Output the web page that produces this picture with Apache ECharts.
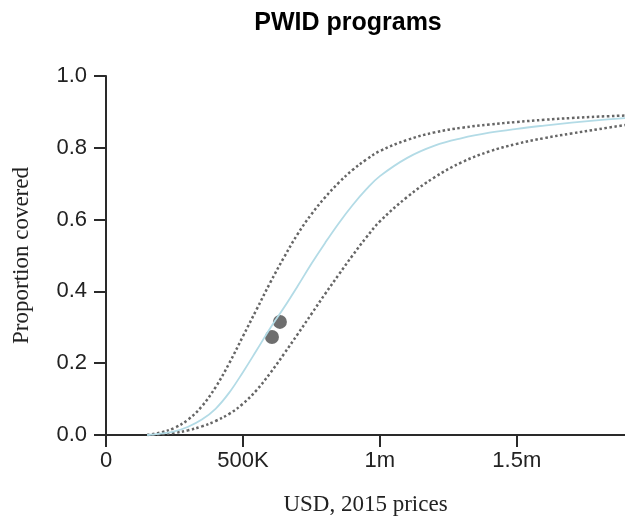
<!DOCTYPE html>
<html>
<head>
<meta charset="utf-8">
<script src="https://cdn.jsdelivr.net/npm/echarts@6/dist/echarts.min.js"></script>
<style>
html,body{margin:0;padding:0;background:#fff;}
#main{width:625px;height:522px;}
</style>
</head>
<body>
<div id="main"></div>
<script>
var chartTitle = 'PWID programs';
var xAxisName = 'USD, 2015 prices';
var yAxisName = 'Proportion covered';
var xTickValues = [0, 500000, 1000000, 1500000];
var xTickLabels = ['0', '500K', '1m', '1.5m'];

var spend = [150000,200000,250000,300000,350000,400000,450000,500000,550000,600000,650000,700000,750000,800000,850000,900000,950000,1000000,1100000,1200000,1300000,1400000,1500000,1600000,1700000,1800000,1900000];
var upperBound = [0,0.007,0.02,0.043,0.08,0.133,0.2,0.275,0.35,0.425,0.495,0.56,0.615,0.662,0.703,0.738,0.767,0.791,0.822,0.843,0.856,0.865,0.872,0.878,0.883,0.887,0.89];
var bestEstimate = [0,0.004,0.01,0.023,0.043,0.073,0.118,0.175,0.236,0.298,0.355,0.415,0.477,0.535,0.59,0.64,0.684,0.721,0.772,0.806,0.827,0.842,0.853,0.862,0.87,0.877,0.883];
var lowerBound = [0,0.002,0.006,0.013,0.024,0.039,0.059,0.087,0.125,0.173,0.226,0.281,0.337,0.393,0.447,0.5,0.55,0.595,0.663,0.718,0.76,0.79,0.811,0.827,0.84,0.852,0.864];

var observedSpend = [606000, 635000];
var observedCoverage = [0.273, 0.315];

function pairs(xs, ys){ return xs.map(function(x,i){ return [x, ys[i]]; }); }

var chart = echarts.init(document.getElementById('main'), null, {renderer:'canvas'});
var axisCol = '#2a2a2a';
chart.setOption({
  animation: false,
  backgroundColor: '#fff',
  title: {
    text: chartTitle,
    left: 343, top: 6, textAlign: 'center',
    textStyle: {fontFamily: 'Liberation Sans', fontWeight: 'bold', fontSize: 25, color: '#000'}
  },
  grid: {left: 106, right: 0, top: 76, bottom: 87, containLabel: false},
  xAxis: {
    type: 'value', min: 0, max: 1895000, interval: 500000,
    name: xAxisName, nameLocation: 'middle', nameGap: 58,
    nameTextStyle: {fontFamily: 'Liberation Serif', fontSize: 23, color: '#222'},
    axisLine: {show: true, lineStyle: {color: axisCol, width: 2}},
    axisTick: {show: true, length: 12, customValues: xTickValues, lineStyle: {color: axisCol, width: 2}},
    splitLine: {show: false},
    axisLabel: {
      margin: 15, fontFamily: 'Liberation Sans', fontSize: 22, color: '#222',
      customValues: xTickValues,
      formatter: function(v){ var i = xTickValues.indexOf(v); return i >= 0 ? xTickLabels[i] : ''; }
    }
  },
  yAxis: {
    type: 'value', min: 0, max: 1, interval: 0.2,
    name: yAxisName, nameLocation: 'middle', nameGap: 73, nameRotate: 90,
    nameTextStyle: {fontFamily: 'Liberation Serif', fontSize: 23, color: '#222'},
    axisLine: {show: true, lineStyle: {color: axisCol, width: 2}},
    axisTick: {show: true, length: 12, lineStyle: {color: axisCol, width: 2}},
    splitLine: {show: false},
    axisLabel: {
      margin: 19, fontFamily: 'Liberation Sans', fontSize: 22, color: '#222',
      formatter: function(v){ return v.toFixed(1); }
    }
  },
  series: [
    {type: 'line', data: pairs(spend, upperBound), smooth: 0.4, symbol: 'none',
     lineStyle: {color: '#666', width: 2.5, type: [2.5, 2.5]}},
    {type: 'line', data: pairs(spend, lowerBound), smooth: 0.4, symbol: 'none',
     lineStyle: {color: '#666', width: 2.5, type: [2.5, 2.5]}},
    {type: 'line', data: pairs(spend, bestEstimate), smooth: 0.4, symbol: 'none',
     lineStyle: {color: '#b3dbe6', width: 1.8}},
    {type: 'scatter', data: pairs(observedSpend, observedCoverage), symbolSize: 14,
     itemStyle: {color: '#4a4a4a'}}
  ]
});
</script>
</body>
</html>
